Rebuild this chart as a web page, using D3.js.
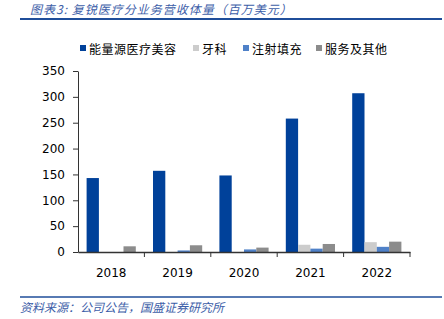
<!DOCTYPE html>
<html>
<head>
<meta charset="utf-8">
<script src="https://cdn.jsdelivr.net/npm/d3@7"></script>
<style>
  body { margin: 0; background: #fff; }
  svg { display: block; }
</style>
</head>
<body>
<svg id="chart"></svg>
<script>
// data
const years = ['2018', '2019', '2020', '2021', '2022'];
const seriesNames = ['能量源医疗美容', '牙科', '注射填充', '服务及其他'];
const energy = [143, 157, 148, 258, 307];
const dental = [0, 0, 0, 14, 19];
const injection = [0, 3, 5, 6.5, 10];
const service = [11, 13, 8.5, 15.5, 20];
const yTicks = [0, 50, 100, 150, 200, 250, 300, 350];

const colors = ['#00419a', '#cccccc', '#4f81c8', '#8c8c8c'];
const series = [energy, dental, injection, service];

const W = 444, H = 319;
const margin = {top: 71, right: 34, bottom: 67, left: 78};
const width = W - margin.left - margin.right;
const height = H - margin.top - margin.bottom;

const svg = d3.select('#chart').attr('width', W).attr('height', H);

// title + rules
svg.append('text')
    .attr('x', 30).attr('y', 14)
    .style('font-family', '"Noto Sans CJK SC", sans-serif')
    .style('font-size', '12px')
    .style('font-style', 'italic')
    .style('letter-spacing', '1px')
    .style('fill', '#3d5ea8')
    .text('图表3:  复锐医疗分业务营收体量（百万美元）');

svg.append('line')
    .attr('x1', 20).attr('x2', 442).attr('y1', 19).attr('y2', 19)
    .style('stroke', '#1f4e9a').style('stroke-width', 2);

svg.append('line')
    .attr('x1', 20).attr('x2', 442).attr('y1', 297).attr('y2', 297)
    .style('stroke', '#1f4e9a').style('stroke-width', 1.5);

svg.append('text')
    .attr('x', 20).attr('y', 312)
    .style('font-family', '"Noto Sans CJK SC", sans-serif')
    .style('font-size', '12px')
    .style('font-style', 'italic')
    .style('fill', '#3d5ea8')
    .text('资料来源：公司公告，国盛证券研究所');

const g = svg.append('g')
    .attr('transform', `translate(${margin.left},${margin.top})`);

const x = d3.scaleBand().domain(years).range([0, width]).paddingInner(0).paddingOuter(0);
const inner = d3.scaleBand().domain(d3.range(series.length))
    .range([0, x.bandwidth()]).paddingOuter(0.7).paddingInner(0);
const y = d3.scaleLinear().domain([0, 350]).range([height, 0]);

// bars
series.forEach((vals, si) => {
    g.append('g')
        .selectAll('rect')
        .data(vals)
        .enter()
        .append('rect')
        .attr('x', (d, i) => x(years[i]) + inner(si))
        .attr('y', d => y(d))
        .attr('width', inner.bandwidth())
        .attr('height', d => height - y(d))
        .style('fill', colors[si]);
});

// axes
const yAxis = g.append('g')
    .call(d3.axisLeft(y).tickValues(yTicks).tickSize(5).tickSizeOuter(0).tickPadding(8));
yAxis.select('.domain').style('stroke', '#333');
yAxis.selectAll('.tick line').style('stroke', '#333');
yAxis.selectAll('text')
    .style('font-family', 'Verdana, "DejaVu Sans", sans-serif')
    .style('font-size', '12px').style('fill', '#000');

const xAxis = g.append('g')
    .attr('transform', `translate(0,${height})`)
    .call(d3.axisBottom(x).tickSize(0).tickPadding(16));
xAxis.select('.domain').style('stroke', '#333').style('stroke-width', 1.5);
xAxis.selectAll('text')
    .style('font-family', 'Verdana, "DejaVu Sans", sans-serif')
    .style('font-size', '12px').style('fill', '#000');
// category separators
g.append('g').selectAll('line')
    .data(years)
    .enter()
    .append('line')
    .attr('x1', d => x(d) + x.bandwidth()).attr('x2', d => x(d) + x.bandwidth())
    .attr('y1', height).attr('y2', height + 5)
    .style('stroke', '#333');

// legend
const legendX = [80, 193, 243, 316];
const legend = svg.append('g').attr('transform', 'translate(0,50)');
seriesNames.forEach((name, i) => {
    legend.append('rect')
        .attr('x', legendX[i]).attr('y', -5)
        .attr('width', 6).attr('height', 6)
        .style('fill', colors[i]);
    legend.append('text')
        .attr('x', legendX[i] + 9).attr('y', 0)
        .attr('dy', '0.35em')
        .style('font-family', '"Noto Sans CJK SC", sans-serif')
        .style('font-size', '12px')
        .style('letter-spacing', '0.5px')
        .style('fill', '#000')
        .text(name);
});
</script>
</body>
</html>
